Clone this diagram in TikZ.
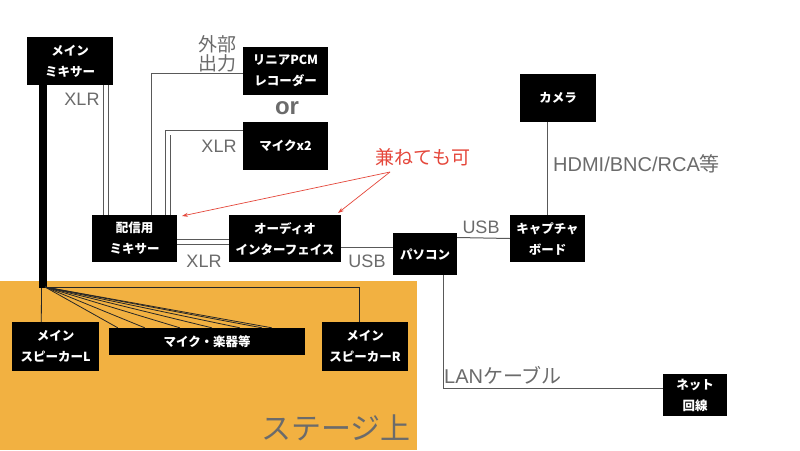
\documentclass[tikz,border=0pt]{standalone}
\usepackage{fontspec}
\setmainfont{Noto Sans CJK JP}
\newfontfamily\latinf{Liberation Sans}
\usetikzlibrary{calc,arrows.meta}
\definecolor{stage}{HTML}{F2B141}
\definecolor{lbl}{HTML}{6B6B6B}
\definecolor{ln}{HTML}{595959}
\definecolor{note}{HTML}{E5473B}
\begin{document}
\begin{tikzpicture}[x=1pt,y=-1pt,
 box/.style={fill=black,text=white,align=center,inner sep=0pt,font=\fontsize{12.5}{21}\selectfont\bfseries},
 lab/.style={text=lbl,inner sep=0pt,font=\fontsize{18}{18}\selectfont},
 conn/.style={draw=ln,line width=1pt},
 dbl/.style={draw=ln,line width=0.9pt,double=white,double distance=4pt},
 fan/.style={draw=black!85,line width=0.8pt},
 noteline/.style={draw=note,line width=0.7pt,-{Stealth[length=6pt,width=4pt]}}]
\useasboundingbox (0,0) rectangle (800,450);
\fill[white] (0,0) rectangle (800,450);
% stage area
\fill[stage] (0,281) rectangle (417,450);
\node[text=lbl,inner sep=0pt,font=\fontsize{30}{30}\selectfont] (stagelbl) at (336,428) {ステージ上};

% boxes
\node[box,minimum width=86pt,minimum height=48pt] (mm) at (70,61) {メイン\\ミキサー};
\node[box,minimum width=85pt,minimum height=48pt] (rec) at (285.5,71) {リニアPCM\\レコーダー};
\node[box,minimum width=85pt,minimum height=48pt] (mic2) at (285.5,146) {マイクx2};
\node[box,minimum width=85pt,minimum height=47pt] (hm) at (134.5,238.5) {配信用\\ミキサー};
\node[box,minimum width=112pt,minimum height=47pt] (ai) at (285,238.5) {オーディオ\\インターフェイス};
\node[box,minimum width=64pt,minimum height=42pt] (pc) at (425,254) {パソコン};
\node[box,minimum width=75pt,minimum height=47pt] (cap) at (547.5,238.5) {キャプチャ\\ボード};
\node[box,minimum width=76pt,minimum height=48pt] (cam) at (558,98) {カメラ};
\node[box,minimum width=64pt,minimum height=42pt] (net) at (695,395) {ネット\\回線};
\node[box,minimum width=87pt,minimum height=49pt] (spL) at (55.5,346.5) {メイン\\スピーカーL};
\node[box,minimum width=86pt,minimum height=49pt] (spR) at (365,346.5) {メイン\\スピーカーR};
\node[box,minimum width=196pt,minimum height=27pt] (mics) at (207,341.5) {マイク・楽器等};

% main trunk
\coordinate (hub) at (43,288);
\draw[line width=8pt] (mm.south -| hub) -- (hub);

% stage wiring
\draw[fan] ($(hub)+(-1.5,0)$) -- ($(spL.north west)+(29.5,0)$);
\draw[fan] ($(hub)+(3,-1)$) -| ($(spR.north west)+(38,0)$);
\foreach \dx in {9,36,71,103,131,153,163}
  \draw[fan] ($(hub)+(2,-1)$) -- ($(mics.north west)+(\dx,0)$);

% XLR main mixer -> distribution mixer
\draw[dbl] ($(hm.north west)+(14,0)$) -- (mm.south -| {$(hm.north west)+(14,0)$});
% external output
\draw[conn] ($(hm.north west)+(60,0)$) |- ([yshift=-2pt]rec.west);
% mics
\draw[dbl] ($(hm.north west)+(76.5,0)$) |- ([yshift=13.5pt]mic2.west);
% mixer -> interface
\draw[dbl] ([yshift=-3.5pt]hm.east) -- ([yshift=-3.5pt]ai.west);
% interface -> pc
\draw[conn] ([yshift=-8.5pt]ai.east) -- ([yshift=7pt]pc.west);
% pc -> capture
\draw[conn] ([yshift=16.5pt]pc.east) -- (cap.west);
% camera -> capture
\draw[conn] (cap.north) -- (cap.north |- cam.south);
% pc -> net
\draw[conn] ([xshift=18pt]pc.south) |- ([yshift=7pt]net.west);

% labels
\node[lab] (l1) at (82,99) {\latinf XLR};
\node[lab,align=center,font=\fontsize{19}{19}\selectfont] (l2) at (217,54) {外部\\出力};
\node[text=lbl,inner sep=0pt,font=\fontsize{24}{24}\selectfont\latinf\bfseries] (l3) at (287,108) {or};
\node[lab] (l4) at (219,146) {\latinf XLR};
\node[lab] (l5) at (204,261) {\latinf XLR};
\node[lab] (l6) at (367,261) {\latinf USB};
\node[lab] (l7) at (481,227) {\latinf USB};
\node[lab,anchor=west,font=\fontsize{20}{20}\selectfont] (l8) at (553,164) {{\latinf HDMI/BNC/RCA}等};
\node[lab,anchor=west,font=\fontsize{20}{20}\selectfont] (l9) at (444,375) {{\latinf LAN}ケーブル};

% note
\node[text=note,inner sep=0pt,font=\fontsize{19}{19}\selectfont] (note) at (423,157) {兼ねても可};
\coordinate (ns) at (390,172);
\draw[noteline] (ns) -- (182,216);
\draw[noteline] (ns) -- (338,213);
\end{tikzpicture}
\end{document}
